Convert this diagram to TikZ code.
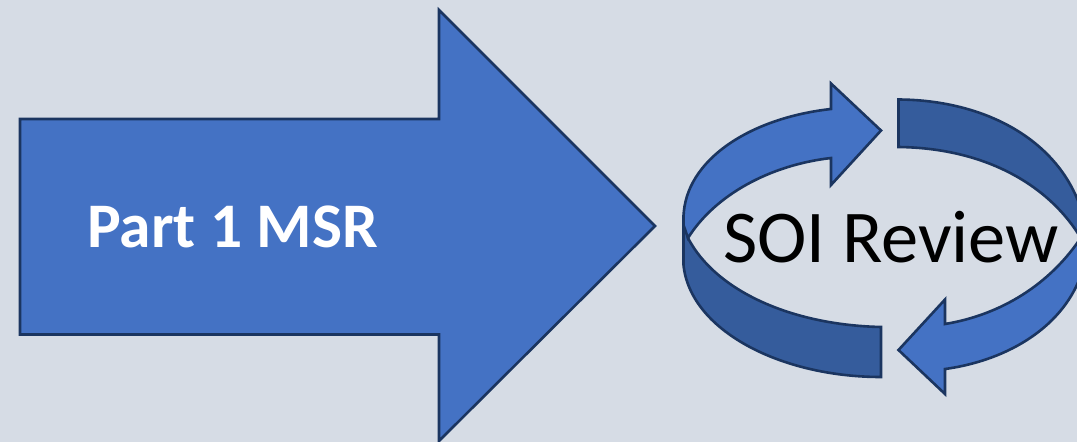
\documentclass[tikz,border=0pt]{standalone}
\usepackage{fontspec}
\setmainfont{Carlito}
\usepackage{tikz}
\definecolor{slidegrey}{HTML}{D6DCE5}
\definecolor{arrowblue}{HTML}{4472C4}
\definecolor{banddark}{HTML}{355C9C}
\definecolor{edgenavy}{HTML}{1B3560}
\tikzset{
	lightstyle/.style={draw=edgenavy,fill=arrowblue,line width=2.6pt,line join=miter},
	darkstyle/.style={draw=edgenavy,fill=banddark,line width=2.6pt,line join=miter},
	msrstyle/.style={inner sep=0pt,anchor=base west,text=white,font=\bfseries\fontsize{63.5}{70}\selectfont},
	soistyle/.style={inner sep=0pt,anchor=base west,text=black,font=\fontsize{74.5}{84}\selectfont}
}
\begin{document}
\begin{tikzpicture}[x=1pt,y=-1pt]
		\fill[slidegrey] (0,0) rectangle (1077,442);
		\useasboundingbox (0,0) rectangle (1077,442);
		\clip (0,0) rectangle (1077,442);
		% big arrow
		\draw[lightstyle] (20,119)--(439,119)--(439,10)--(655,226)--(439,441)--(439,334.5)--(20,334.5)--cycle;
		\node[msrstyle] (msr) at (87,247) {Part 1 MSR};
		% ring, dark bands
		\draw[darkstyle] (683.5,215)--(683.5,265) .. controls (690,330) and (780,377) .. (881,377)--(881,327) .. controls (790,325) and (715,290) .. (688,238)--cycle;
		\draw[darkstyle] (898.5,99.5) .. controls (985,100) and (1060,140) .. (1082,212)--(1082,240) .. controls (1050,185) and (985,148) .. (898.5,147)--cycle;
		% ring, arrows
		\draw[lightstyle] (683.5,225)--(683.5,217) .. controls (685,160) and (750,118) .. (831,109)--(831,83.5)--(881,130.5)--(831,185)--(831,158) .. controls (770,165) and (715,195) .. (688,238)--cycle;
		\draw[lightstyle] (898.5,350)--(945,299.5)--(945,324) .. controls (1000,315) and (1050,285) .. (1082,236)--(1082,272) .. controls (1065,325) and (1010,360) .. (945,369)--(945,394)--cycle;
		\node[soistyle] (soi) at (723,262) {SOI Review};
		\end{tikzpicture}
\end{document}
